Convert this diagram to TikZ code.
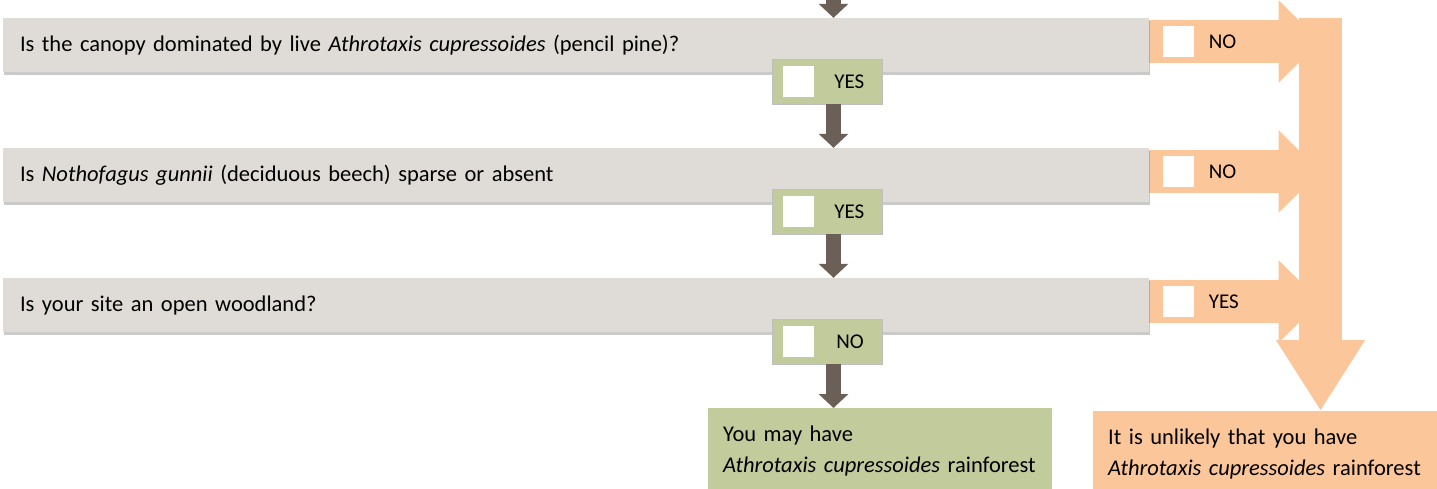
\documentclass[tikz,border=0pt]{standalone}
\usepackage{fontspec}
\setmainfont{Carlito}
\usepackage{tikz}
\usetikzlibrary{arrows.meta, shadows}
\pgfdeclarelayer{background}
\pgfsetlayers{background,main}
\definecolor{qgrey}{HTML}{DFDCD7}
\definecolor{okgreen}{HTML}{C2CB9C}
\definecolor{nopeach}{HTML}{FAC69A}
\definecolor{stembrown}{HTML}{6A6058}
\tikzstyle{question} = [rectangle, fill=qgrey, minimum width=1146pt, minimum height=54pt, text width=1112pt, inner xsep=17pt, align=left, font=\fontsize{22.5}{26}\selectfont, drop shadow={shadow xshift=1pt, shadow yshift=-2.5pt, fill=black!60, opacity=0.35}]
\tikzstyle{answer}   = [rectangle, fill=okgreen, draw=black!25, minimum width=110pt, minimum height=45pt]
\tikzstyle{tick}     = [rectangle, fill=white, minimum width=31pt, minimum height=31pt, inner sep=0pt]
\tikzstyle{word}     = [inner sep=0pt, anchor=west, font=\fontsize{21}{24}\selectfont]
\tikzstyle{result}   = [rectangle, minimum width=344pt, minimum height=85pt, text width=314pt, inner xsep=15pt, align=left, anchor=north west, font=\fontsize{22.5}{31}\selectfont]
\tikzstyle{arrow}    = [line width=15pt, draw=stembrown, -{Triangle[width=29pt,length=14pt]}]
\tikzstyle{flow}     = [line width=43pt, draw=nopeach, -{Triangle[width=80pt,length=42pt]}]

\begin{document}
\begin{tikzpicture}[x=1pt, y=-1pt, node distance=130pt]
      \useasboundingbox (0,0) rectangle (1437,488);

      \node (q1)  [question] at (576,45) {Is the canopy dominated by live \textit{Athrotaxis cupressoides} (pencil pine)?};
      \node (q2)  [question, below of=q1] {Is \textit{Nothofagus gunnii} (deciduous beech) sparse or absent};
      \node (q3)  [question, below of=q2] {Is your site an open woodland?};

      \node (a1)  [answer] at (827,81.5) {};
      \node (a2)  [answer, below of=a1] {};
      \node (a3)  [answer, below of=a2] {};

      \node (t1)  [tick, anchor=west] at ([xshift=11pt]a1.west) {};
      \node (t2)  [tick, anchor=west] at ([xshift=11pt]a2.west) {};
      \node (t3)  [tick, anchor=west] at ([xshift=11pt]a3.west) {};
      \node (w1)  [word] at ([xshift=20pt]t1.east) {YES};
      \node (w2)  [word] at ([xshift=20pt]t2.east) {YES};
      \node (w3)  [word] at ([xshift=22pt]t3.east) {NO};

      \node (r1)  [result, fill=okgreen] at (708,408) {You may have\\\textit{Athrotaxis cupressoides} rainforest};
      \node (r2)  [result, fill=nopeach] at (1093,411) {It is unlikely that you have\\\textit{Athrotaxis cupressoides} rainforest};

      \coordinate (entry) at (833.5,-5);
      \coordinate (bar) at (1320.5,18);

      \draw [arrow] (entry) -- (entry |- q1.north);
      \draw [arrow] ([xshift=6.5pt]a1.south) -- ([xshift=6.5pt]a1.south |- q2.north);
      \draw [arrow] ([xshift=6.5pt]a2.south) -- ([xshift=6.5pt]a2.south |- q3.north);
      \draw [arrow] ([xshift=6.5pt]a3.south) -- ([xshift=6.5pt]a3.south |- r1.north);

      \begin{pgfonlayer}{background}
      \draw [flow, -{Triangle[width=84pt,length=71pt]}] (bar) -- (bar |- r2.north);
      \draw [flow] ([yshift=3.5pt]q1.east) -- ([yshift=3.5pt]q1.east -| bar);
      \draw [flow] ([yshift=3.5pt]q2.east) -- ([yshift=3.5pt]q2.east -| bar);
      \draw [flow] ([yshift=3.5pt]q3.east) -- ([yshift=3.5pt]q3.east -| bar);
      \end{pgfonlayer}

      \node (t4)  [tick, anchor=west] at ([xshift=14pt,yshift=3.5pt]q1.east) {};
      \node (t5)  [tick, anchor=west] at ([xshift=14pt,yshift=3.5pt]q2.east) {};
      \node (t6)  [tick, anchor=west] at ([xshift=14pt,yshift=3.5pt]q3.east) {};
      \node (w4)  [word] at ([xshift=14pt]t4.east) {NO};
      \node (w5)  [word] at ([xshift=14pt]t5.east) {NO};
      \node (w6)  [word] at ([xshift=14pt]t6.east) {YES};

    \end{tikzpicture}
\end{document}
